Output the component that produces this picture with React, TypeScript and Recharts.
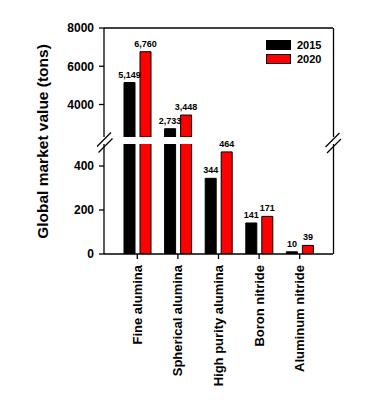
import { BarChart, Bar, XAxis, YAxis, LabelList, Legend, Rectangle, ReferenceLine } from 'recharts'

const categories = ['Fine alumina', 'Spherical alumina', 'High purity alumina', 'Boron nitride', 'Aluminum nitride']
const values2015 = [5149, 2733, 344, 141, 10]
const values2020 = [6760, 3448, 464, 171, 39]
const seriesNames = ['2015', '2020']
const seriesKeys = ['y2015', 'y2020']
const seriesColors = ['#000000', '#ff0000']
const upperTicks = [4000, 6000, 8000]
const lowerTicks = [0, 200, 400]
// the value axis is broken: upper part 2300..8000, lower part 0..500
const upperRange: [number, number] = [2300, 8000]
const lowerRange: [number, number] = [0, 500]

const data = categories.map((name, i) => ({ name, y2015: values2015[i], y2020: values2020[i] }))

const FONT = '"Liberation Sans", Arial, sans-serif'
const W = 373
const margin = { right: 40, left: 44 }
const xPad = { left: 13, right: 13 }
const tickStyle = { fill: '#000', fontSize: 12, fontWeight: 'bold', fontFamily: FONT }
const line = { stroke: '#000', strokeWidth: 1.3 }

// plot frame edges (page pixels)
const PLOT = { left: 104, right: 333, top: 28, breakTop: 137, breakBottom: 144, bottom: 254 }

function valueLabel(range: [number, number]) {
  return (props: any) => {
    const { x, y, width, value } = props
    if (value < range[0] || value > range[1]) return null
    return (
      <text
        x={Number(x) + Number(width) / 2}
        y={Number(y) - 5}
        textAnchor="middle"
        fontSize={9}
        fontWeight="bold"
        fontFamily={FONT}
        fill="#000"
      >
        {Number(value).toLocaleString('en-US')}
      </text>
    )
  }
}

// a bar whose value lies below this segment of the axis is not drawn in it
function segmentBar(range: [number, number], key: string) {
  return (props: any) => {
    const v = props.payload ? props.payload[key] : 0
    if (v < range[0]) return <g />
    return <Rectangle {...props} />
  }
}

function CategoryTick({ x, y, payload }: any) {
  return (
    <text
      x={x}
      y={y}
      transform={`rotate(-90 ${x} ${y})`}
      textAnchor="end"
      dy="0.35em"
      fontSize={13}
      fontWeight="bold"
      fontFamily={FONT}
      fill="#000"
    >
      {payload.value}
    </text>
  )
}

function SeriesLegend({ payload }: any) {
  return (
    <div style={{ fontFamily: FONT, fontSize: 11, fontWeight: 'bold', color: '#000' }}>
      {(payload || []).map((entry: any, i: number) => (
        <div key={entry.value} style={{ display: 'flex', alignItems: 'center', height: 14 }}>
          <span
            style={{
              display: 'inline-block',
              width: 25,
              height: 10,
              background: seriesColors[i],
              border: '1px solid #000',
              boxSizing: 'border-box',
              marginRight: 6,
            }}
          />
          {entry.value}
        </div>
      ))}
    </div>
  )
}

function series(range: [number, number]) {
  return seriesKeys.map((key, i) => (
    <Bar
      key={key}
      dataKey={key}
      name={seriesNames[i]}
      fill={seriesColors[i]}
      stroke="#000"
      strokeWidth={1}
      shape={segmentBar(range, key)}
      isAnimationActive={false}
    >
      <LabelList dataKey={key} content={valueLabel(range)} />
    </Bar>
  ))
}

// short slanted strokes marking the axis break
function BreakMark({ cx, cy }: { cx: number; cy: number }) {
  return <line x1={cx - 7} y1={cy + 7} x2={cx + 7} y2={cy - 7} stroke="#000" strokeWidth={1.3} />
}

export default function App() {
  const rx = PLOT.right + 0.5
  return (
    <div style={{ position: 'absolute', left: 0, top: 0, width: W, height: 400, background: '#fff' }}>
      <div style={{ position: 'absolute', left: 0, top: 0 }}>
        <BarChart width={W} height={PLOT.breakTop} data={data} margin={{ top: PLOT.top, right: margin.right, bottom: 0, left: margin.left }} barSize={11} barGap={5}>
          <XAxis dataKey="name" hide padding={xPad} />
          <YAxis
            type="number"
            domain={upperRange}
            ticks={upperTicks}
            allowDataOverflow
            width={60}
            tickSize={5}
            tickMargin={5}
            tick={tickStyle}
            tickLine={line}
            axisLine={line}
          />
          {/* top edge of the frame */}
          <ReferenceLine y={upperRange[1]} stroke="#000" strokeWidth={1.3} ifOverflow="visible" />
          <Legend
            layout="vertical"
            align="center"
            verticalAlign="middle"
            content={<SeriesLegend />}
            wrapperStyle={{ left: 266, top: 38, width: 'auto', height: 'auto' }}
          />
          {series(upperRange)}
        </BarChart>
      </div>
      <div style={{ position: 'absolute', left: 0, top: PLOT.breakBottom - 20 }}>
        <BarChart width={W} height={276} data={data} margin={{ top: 20, right: margin.right, bottom: 0, left: margin.left }} barSize={11} barGap={5}>
          <XAxis
            dataKey="name"
            padding={xPad}
            height={146}
            interval={0}
            tickSize={5}
            tickMargin={6}
            tick={<CategoryTick />}
            tickLine={line}
            axisLine={line}
          />
          <YAxis
            type="number"
            domain={lowerRange}
            ticks={lowerTicks}
            allowDataOverflow
            width={60}
            tickSize={5}
            tickMargin={5}
            tick={tickStyle}
            tickLine={line}
            axisLine={line}
          />
          {series(lowerRange)}
        </BarChart>
      </div>
      <svg width={W} height={400} style={{ position: 'absolute', left: 0, top: 0, pointerEvents: 'none', zIndex: 2 }}>
        <line x1={rx} y1={PLOT.top} x2={rx} y2={PLOT.breakTop} {...line} />
        <line x1={rx} y1={PLOT.breakBottom} x2={rx} y2={PLOT.bottom} {...line} />
        <BreakMark cx={104} cy={139.5} />
        <BreakMark cx={105.5} cy={145.5} />
        <BreakMark cx={332.5} cy={140} />
        <BreakMark cx={334} cy={146} />
        <text
          x={48}
          y={141.5}
          transform="rotate(-90 48 141.5)"
          textAnchor="middle"
          fontSize={15.5}
          fontWeight="bold"
          fontFamily={FONT}
          fill="#000"
        >
          Global market value (tons)
        </text>
      </svg>
    </div>
  )
}
